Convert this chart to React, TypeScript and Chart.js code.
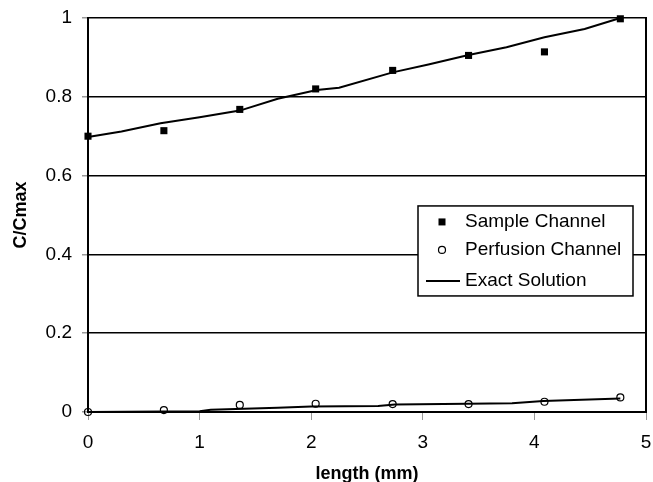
import React, { useEffect, useRef } from "react";
import { Chart, registerables } from "chart.js";

Chart.register(...registerables);

// Measurement positions (mm)
const lengthsMm = [0, 0.68, 1.36, 2.04, 2.73, 3.41, 4.09, 4.77];
const sampleChannel = [0.7, 0.714, 0.768, 0.82, 0.867, 0.905, 0.914, 0.998];
const perfusionChannel = [0.0, 0.005, 0.018, 0.021, 0.02, 0.02, 0.026, 0.037];

// Exact solution curves
const exactSampleX = [0, 0.3, 0.65, 1.0, 1.36, 1.7, 2.05, 2.25, 2.73, 3.05, 3.41, 3.75, 4.09, 4.45, 4.77];
const exactSampleY = [0.698, 0.712, 0.733, 0.748, 0.765, 0.795, 0.817, 0.823, 0.862, 0.882, 0.906, 0.926, 0.951, 0.972, 1.0];
const exactPerfX = [0, 1.0, 1.1, 1.7, 2.0, 2.6, 2.75, 3.4, 3.8, 4.08, 4.77];
const exactPerfY = [0, 0.002, 0.006, 0.011, 0.014, 0.015, 0.019, 0.021, 0.022, 0.028, 0.034];

const legendLabels = ["Sample Channel", "Perfusion Channel", "Exact Solution"];
const xTitle = "length (mm)";
const yTitle = "C/Cmax";

const FONT = "'Liberation Sans', Arial, sans-serif";

const zip = (xs: number[], ys: number[]) => xs.map((x, i) => ({ x, y: ys[i] }));

const frameAndLegend = {
  id: "frameAndLegend",
  afterDraw(chart: any) {
    const { ctx, chartArea } = chart;
    const { right, top, bottom } = chartArea;
    ctx.save();
    // right border
    ctx.strokeStyle = "#000";
    ctx.lineWidth = 2;
    ctx.beginPath();
    ctx.moveTo(right, top - 1);
    ctx.lineTo(right, bottom);
    ctx.stroke();

    // legend box
    const h = bottom - top;
    const bw = 215;
    const bh = 90;
    const bx = right - 13 - bw;
    const by = top + h * 0.477;
    ctx.fillStyle = "#fff";
    ctx.fillRect(bx, by, bw, bh);
    ctx.lineWidth = 1.5;
    ctx.strokeStyle = "#000";
    ctx.strokeRect(bx, by, bw, bh);

    const rows = [by + 16, by + 44, by + 75];
    const mx = bx + 24;
    const tx = bx + 47;
    ctx.fillStyle = "#000";
    ctx.fillRect(mx - 3.5, rows[0] - 3.5, 7, 7);
    ctx.beginPath();
    ctx.lineWidth = 1.2;
    ctx.arc(mx, rows[1], 3.5, 0, Math.PI * 2);
    ctx.stroke();
    ctx.beginPath();
    ctx.lineWidth = 2;
    ctx.moveTo(bx + 8, rows[2]);
    ctx.lineTo(bx + 42, rows[2]);
    ctx.stroke();

    ctx.font = `19px ${FONT}`;
    ctx.textBaseline = "middle";
    ctx.textAlign = "left";
    legendLabels.forEach((t, i) => ctx.fillText(t, tx, rows[i]));
    ctx.restore();
  },
};

export default function App() {
  const ref = useRef<HTMLCanvasElement | null>(null);
  useEffect(() => {
    if (!ref.current) return;
    Chart.defaults.font.family = FONT;
    const chart = new Chart(ref.current, {
      type: "scatter",
      data: {
        datasets: [
          {
            label: legendLabels[0],
            data: zip(lengthsMm, sampleChannel),
            pointStyle: "rect",
            pointRadius: 5,
            backgroundColor: "#000",
            borderColor: "#000",
            borderWidth: 0,
            clip: false,
          } as any,
          {
            label: legendLabels[1],
            data: zip(lengthsMm, perfusionChannel),
            pointStyle: "circle",
            pointRadius: 3.5,
            backgroundColor: "rgba(0,0,0,0)",
            borderColor: "#000",
            borderWidth: 1.2,
            clip: false,
          } as any,
          {
            label: legendLabels[2],
            data: zip(exactSampleX, exactSampleY),
            showLine: true,
            pointRadius: 0,
            borderColor: "#000",
            borderWidth: 2,
            tension: 0,
            clip: false,
          } as any,
          {
            label: legendLabels[2] + " (perfusion)",
            data: zip(exactPerfX, exactPerfY),
            showLine: true,
            pointRadius: 0,
            borderColor: "#000",
            borderWidth: 2,
            tension: 0,
            clip: false,
          } as any,
        ],
      },
      options: {
        animation: false,
        responsive: false,
        layout: { padding: { top: 18, right: 7, left: 0, bottom: 0 } },
        plugins: {
          legend: { display: false },
          tooltip: { enabled: false },
        },
        scales: {
          x: {
            type: "linear",
            min: 0,
            max: 5,
            ticks: { stepSize: 1, color: "#000", font: { size: 19 }, padding: 11 },
            grid: { drawOnChartArea: false, drawTicks: true, tickLength: 8, tickColor: "#999" },
            border: { display: true, color: "#000", width: 2 },
            title: {
              display: true,
              text: xTitle,
              color: "#000",
              font: { size: 18, weight: "bold" },
              padding: { top: 0, bottom: -3 },
            },
            afterFit: (s: any) => {
              s.height = 70;
              s.paddingLeft = 0;
              s.paddingRight = 0;
            },
          },
          y: {
            type: "linear",
            min: 0,
            max: 1,
            ticks: {
              stepSize: 0.2,
              color: "#000",
              font: { size: 19 },
              padding: 10,
              callback: (v: any) => String(Number(Number(v).toFixed(1))),
            },
            grid: { color: "#000", lineWidth: 1.5, tickLength: 6, tickColor: "#999" },
            border: { display: true, color: "#000", width: 2 },
            title: {
              display: true,
              text: yTitle,
              color: "#000",
              font: { size: 18, weight: "bold" },
              padding: { top: 10, bottom: 0 },
            },
            afterFit: (s: any) => {
              s.width = 88;
              s.paddingTop = 0;
              s.paddingBottom = 0;
            },
          },
        },
      } as any,
      plugins: [frameAndLegend],
    });
    return () => chart.destroy();
  }, []);
  return (
    <div style={{ position: "absolute", left: 0, top: 0, width: 653, height: 482, background: "#fff" }}>
      <canvas ref={ref} width={653} height={482} />
    </div>
  );
}
